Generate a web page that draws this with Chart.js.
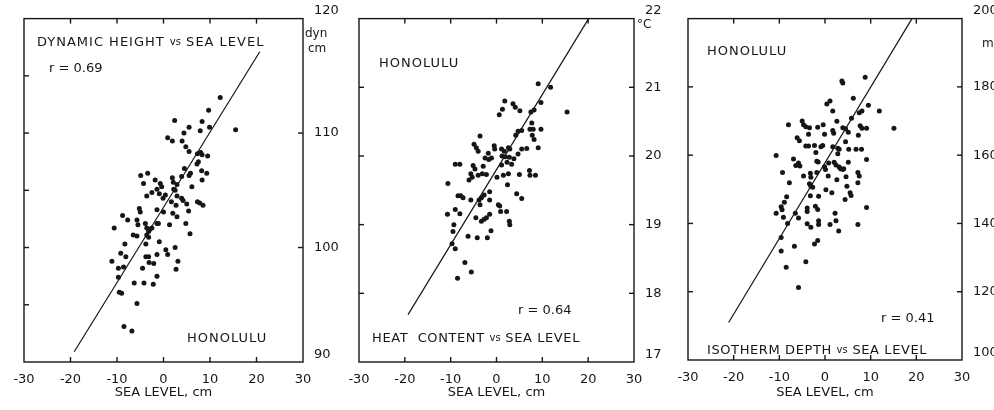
<!DOCTYPE html>
<html><head><meta charset="utf-8">
<script src="https://cdn.jsdelivr.net/npm/chart.js@4.4.1/dist/chart.umd.min.js"></script>
<style>
html,body{margin:0;padding:0;background:#fff;}
#wrap{position:relative;width:994px;height:410px;overflow:hidden;background:#fff}
canvas{position:absolute;top:0}
</style></head><body>
<div id="wrap">
<canvas id="c1" width="345" height="410" style="left:0px"></canvas>
<canvas id="c2" width="345" height="410" style="left:330px"></canvas>
<canvas id="c3" width="334" height="410" style="left:660px"></canvas>
</div>
<script>
const INK = '#161616';
const FONT = "'DejaVu Sans', sans-serif";

// shared x axis (sea level, cm)
const xTickValues = [-30, -20, -10, 0, 10, 20, 30];
const xTickLabels = ['-30', '-20', '-10', '0', '10', '20', '30'];
const xInnerTicks = [-20, -10, 0, 10, 20];
const xTitle = 'SEA LEVEL, cm';

// ---------- Panel 1: dynamic height vs sea level ----------
const seaLevel1 = [12.2,9.7,2.4,8.3,5.5,9.9,7.9,15.5,4.4,0.9,1.9,4.0,4.8,5.5,7.3,8.0,9.5,8.3,7.5,7.2,4.5,5.8,5.5,9.3,8.2,8.3,6.1,-4.9,-3.4,-4.3,1.9,2.1,2.9,3.9,-1.8,-0.7,-0.4,-1.4,-2.5,-3.6,-0.9,-0.1,0.4,2.2,2.5,1.7,2.9,3.9,4.2,5.0,5.4,7.3,7.8,8.5,2.7,2.0,2.9,-1.4,0.0,-5.2,-5.0,-8.8,-7.7,-5.7,-5.5,-3.9,-3.6,-3.2,-2.9,-2.5,-1.4,-1.1,1.3,4.8,5.7,-10.6,-6.5,-5.7,-3.6,-3.2,-8.3,-3.8,-0.9,0.5,0.9,2.5,-9.2,-8.1,-11.1,-9.7,-8.6,-4.5,-3.8,-3.2,-3.1,-2.1,-1.4,3.1,2.7,-1.4,-9.7,-6.3,-4.2,-2.2,-9.5,-9.0,-5.7,-8.5,-6.8];
const dynHeight1 = [113.1,112.0,111.1,111.0,110.5,110.5,110.2,110.3,110.0,109.6,109.3,109.3,108.8,108.4,108.2,108.3,108.0,108.1,107.5,107.3,106.9,106.5,106.3,106.5,106.7,105.9,105.3,106.3,106.5,105.6,106.1,105.7,105.5,106.2,105.9,105.6,105.3,105.1,104.8,104.5,104.7,104.3,104.6,105.1,105.0,104.0,104.5,104.3,104.1,103.8,103.2,104.0,103.9,103.7,103.7,103.0,102.7,103.3,103.1,103.4,103.1,102.8,102.4,102.4,102.0,102.1,101.7,101.4,101.6,101.7,102.1,102.1,102.0,102.1,101.2,101.7,101.1,101.0,101.1,100.9,100.3,100.3,100.5,99.8,99.4,100.0,99.5,99.2,98.8,98.2,98.3,98.2,99.2,99.2,98.7,98.6,99.4,98.8,98.1,97.5,97.4,96.9,96.9,96.8,96.1,96.0,95.1,93.1,92.7];
const fitX1 = [-19.2, 20.7];
const fitY1 = [90.9, 117.1];
const yTickValues1 = [90, 100, 110, 120];
const yTickLabels1 = ['90', '100', '110', '120'];
const yInnerLeft1 = [95, 100, 105, 110, 115];
const yInnerRight1 = [100, 110];

// ---------- Panel 2: heat content vs sea level ----------
const seaLevel2 = [9.1,11.8,15.4,1.8,0.6,1.3,3.6,4.1,5.1,7.5,8.2,9.7,7.7,7.3,8.0,5.5,4.7,4.2,9.7,7.8,8.2,-3.6,-4.9,-4.4,-4.0,-0.5,-0.4,-2.5,-1.8,-1.1,-1.7,1.1,1.7,2.6,2.9,1.2,1.9,2.8,4.7,5.5,6.6,9.1,3.8,2.3,3.3,1.1,-9.0,-8.0,-5.1,-4.7,-2.9,-5.6,-5.3,-6.0,-4.0,-3.1,-2.2,0.1,1.5,2.6,5.0,7.2,7.3,8.5,-10.6,-8.4,-7.8,-7.3,-5.6,-3.8,-3.3,-2.7,-3.6,-1.5,-1.5,0.4,0.7,2.4,4.4,5.5,-10.7,-9.0,-8.0,-9.3,-4.5,-3.3,-2.7,-2.2,-1.5,0.9,2.2,2.8,2.9,-9.5,-6.2,-4.2,-2.0,-1.2,-9.7,-9.0,-6.9,-5.5,-8.5];
const heatContent2 = [21.05,21.0,20.64,20.8,20.6,20.68,20.76,20.71,20.66,20.64,20.67,20.78,20.48,20.39,20.39,20.37,20.36,20.3,20.39,20.3,20.24,20.29,20.17,20.12,20.07,20.15,20.1,19.97,20.04,19.97,19.95,20.1,20.07,20.12,20.1,20.0,19.99,19.98,20.03,20.1,20.11,20.12,19.96,19.91,19.88,19.87,19.88,19.88,19.86,19.81,19.85,19.74,19.69,19.65,19.72,19.74,19.73,19.69,19.72,19.74,19.73,19.79,19.72,19.72,19.6,19.42,19.42,19.39,19.36,19.36,19.39,19.43,19.29,19.48,19.36,19.29,19.27,19.58,19.45,19.38,19.15,19.22,19.16,19.0,19.1,19.05,19.08,19.1,19.15,19.19,19.19,19.05,19.0,18.9,18.83,18.81,18.81,18.91,18.72,18.65,18.45,18.31,18.22];
const fitX2 = [-19.3, 20.1];
const fitY2 = [17.69, 22.0];
const yTickValues2 = [17, 18, 19, 20, 21, 22];
const yTickLabels2 = ['17', '18', '19', '20', '21', '22'];
const yInnerLeft2 = [18, 19, 20, 21];
const yInnerRight2 = [18, 19, 20, 21];

// ---------- Panel 3: isotherm depth vs sea level ----------
const seaLevel3 = [8.8,3.7,3.9,6.2,0.4,1.1,9.5,11.9,1.7,7.5,8.1,5.8,2.6,-8.0,-5.0,-4.7,-4.2,-3.4,-3.6,-1.6,-0.4,-0.1,1.7,1.9,3.9,4.5,7.7,8.1,9.1,15.1,5.1,7.3,4.5,-6.1,-5.6,-4.2,-3.6,-2.3,-0.9,-0.5,1.7,2.8,3.1,5.2,6.8,8.0,-10.7,-6.9,-5.8,-6.4,-5.5,-2.0,-1.8,-1.5,0.8,-0.1,0.1,2.0,2.4,3.1,2.8,3.4,3.9,4.1,5.1,9.1,-9.3,-7.8,-4.7,-3.2,-3.1,-3.4,-3.1,-2.7,-1.8,0.7,2.6,4.6,4.8,7.2,7.5,7.2,0.2,1.5,5.5,5.7,4.4,-8.4,-8.9,-9.6,-9.4,-10.7,-9.1,-8.2,-6.5,-5.8,-3.9,-3.9,-2.1,-1.6,-3.2,-1.4,-3.9,-3.1,-1.4,-1.4,1.1,2.2,2.4,3.0,7.2,9.1,-9.6,-9.6,-6.7,-2.3,-1.6,-4.2,-8.5,-5.8];
const isoDepth3 = [182.8,181.7,181.1,176.7,175.0,175.9,174.6,172.9,172.9,172.4,172.9,170.8,169.9,168.9,170.0,168.9,168.3,168.0,166.1,168.2,168.9,166.1,167.2,166.4,168.0,167.7,168.6,167.9,167.9,167.9,166.7,165.8,163.9,165.1,164.2,162.7,162.7,162.8,162.5,162.8,162.5,162.0,161.7,161.7,161.7,161.7,159.9,158.9,157.7,157.0,156.8,160.8,158.2,158.0,157.7,156.6,155.8,157.9,157.1,156.5,160.4,156.0,155.8,156.0,157.9,158.7,154.9,151.9,153.9,154.7,153.5,151.6,150.9,150.6,154.9,153.9,152.8,153.7,150.9,154.9,153.9,151.9,149.9,149.0,149.0,148.2,147.0,147.8,146.2,144.9,144.0,143.0,141.8,140.0,143.0,141.6,144.5,143.5,145.0,144.1,148.1,148.0,139.9,138.9,140.8,139.7,139.7,143.0,140.8,137.8,139.7,144.7,135.9,131.9,133.3,134.0,135.0,128.8,127.2,121.2];
const fitX3 = [-21.1, 19.05];
const fitY3 = [111.0, 200.0];
const yTickValues3 = [100, 120, 140, 160, 180, 200];
const yTickLabels3 = ['100', '120', '140', '160', '180', '200'];
const yInnerLeft3 = [120, 140, 160, 180];
const yInnerRight3 = [120, 140, 160, 180];

function drawParts(ctx, parts, x, y) {
  let cx = x;
  parts.forEach(([t, size, sp]) => {
    ctx.font = size + 'px ' + FONT;
    ctx.letterSpacing = (sp || 0) + 'px';
    ctx.fillText(t, cx, y);
    cx += ctx.measureText(t).width;
  });
  ctx.letterSpacing = '0px';
}

const framePlugin = {
  id: 'frame',
  afterDatasetsDraw(chart, args, o) {
    const {ctx, chartArea: a, scales: {x, y}} = chart;
    ctx.save();
    ctx.strokeStyle = INK;
    ctx.lineWidth = 1.4;
    ctx.strokeRect(a.left, a.top, a.right - a.left, a.bottom - a.top);
    const seg = (x1, y1, x2, y2) => { ctx.beginPath(); ctx.moveTo(x1, y1); ctx.lineTo(x2, y2); ctx.stroke(); };
    xInnerTicks.forEach(v => {
      const px = x.getPixelForValue(v);
      seg(px, a.bottom, px, a.bottom - 5);
      seg(px, a.top, px, a.top + 5);
    });
    o.yLeft.forEach(v => { const py = y.getPixelForValue(v); seg(a.left, py, a.left + 5, py); });
    o.yRight.forEach(v => { const py = y.getPixelForValue(v); seg(a.right, py, a.right - 5, py); });
    ctx.fillStyle = INK;
    ctx.textBaseline = 'middle';
    ctx.textAlign = 'left';
    o.texts.forEach(t => drawParts(ctx, t.parts, a.left + t.dx, a.top + t.dy));
    o.units.forEach(t => drawParts(ctx, t.parts, a.right + t.dx, a.top + t.dy));
    ctx.restore();
  }
};

function makePanel(id, p) {
  const pts = p.xs.map((v, i) => ({x: v, y: p.ys[i]}));
  const fit = p.fitX.map((v, i) => ({x: v, y: p.fitY[i]}));
  const last = p.yTicks.length - 1;
  return new Chart(document.getElementById(id), {
    type: 'scatter',
    data: {datasets: [
      {data: pts, pointRadius: 2.5, pointHoverRadius: 2.5, backgroundColor: INK, borderWidth: 0, pointBorderWidth: 0},
      {type: 'line', data: fit, showLine: true, borderColor: INK, borderWidth: 1.2, pointRadius: 0, fill: false, tension: 0}
    ]},
    options: {
      responsive: false, animation: false, devicePixelRatio: 1,
      layout: {padding: {left: p.padLeft, top: 13, right: 0, bottom: 0}},
      plugins: {
        legend: {display: false}, tooltip: {enabled: false},
        frame: {yLeft: p.yLeft, yRight: p.yRight, texts: p.texts, units: p.units}
      },
      scales: {
        x: {
          type: 'linear', position: 'bottom', min: -30, max: 30,
          afterBuildTicks: s => { s.ticks = xTickValues.map(v => ({value: v})); },
          afterFit: s => { s.height = p.xHeight; },
          grid: {display: false}, border: {display: false},
          ticks: {color: INK, font: {family: FONT, size: 13}, padding: 2, maxRotation: 0, autoSkip: false,
            callback: v => xTickLabels[xTickValues.indexOf(v)]},
          title: {display: true, text: xTitle, color: INK, font: {family: FONT, size: 13}, padding: {top: 0, bottom: 10}}
        },
        y: {
          type: 'linear', position: 'right', min: p.yTicks[0], max: p.yTicks[last],
          afterBuildTicks: s => { s.ticks = p.yTicks.map(v => ({value: v})); },
          afterFit: s => { s.width = p.yWidth; },
          grid: {display: false}, border: {display: false},
          ticks: {color: INK, font: {family: FONT, size: 13}, padding: 3, autoSkip: false,
            callback: v => {
              const i = p.yTicks.indexOf(v);
              const lab = p.yLabels[i];
              return (i === 0 || i === last) ? [lab, ''] : lab;
            }}
        }
      }
    },
    plugins: [framePlugin]
  });
}

makePanel('c1', {
  xs: seaLevel1, ys: dynHeight1, fitX: fitX1, fitY: fitY1,
  yTicks: yTickValues1, yLabels: yTickLabels1, yLeft: yInnerLeft1, yRight: yInnerRight1,
  padLeft: 24, yWidth: 42, xHeight: 48,
  texts: [
    {parts: [['DYNAMIC HEIGHT ', 13, 1], ['vs', 10, 0], [' SEA LEVEL', 13, 1]], dx: 13, dy: 24},
    {parts: [['r = 0.69', 13, 0]], dx: 25, dy: 50},
    {parts: [['HONOLULU', 13, 1]], dx: 163, dy: 320}
  ],
  units: [{parts: [['dyn', 12, 0]], dx: 2, dy: 15}, {parts: [['cm', 12, 0]], dx: 5, dy: 30}]
});

makePanel('c2', {
  xs: seaLevel2, ys: heatContent2, fitX: fitX2, fitY: fitY2,
  yTicks: yTickValues2, yLabels: yTickLabels2, yLeft: yInnerLeft2, yRight: yInnerRight2,
  padLeft: 29, yWidth: 41, xHeight: 48,
  texts: [
    {parts: [['HONOLULU', 13, 1]], dx: 20, dy: 45},
    {parts: [['r = 0.64', 13, 0]], dx: 159, dy: 292},
    {parts: [['HEAT  CONTENT ', 13, 0.6], ['vs', 10, 0], [' SEA LEVEL', 13, 0.6]], dx: 13, dy: 320}
  ],
  units: [{parts: [['°C', 12, 0]], dx: 3, dy: 6}]
});

makePanel('c3', {
  xs: seaLevel3, ys: isoDepth3, fitX: fitX3, fitY: fitY3,
  yTicks: yTickValues3, yLabels: yTickLabels3, yLeft: yInnerLeft3, yRight: yInnerRight3,
  padLeft: 28, yWidth: 32, xHeight: 50,
  texts: [
    {parts: [['HONOLULU', 13, 1]], dx: 19, dy: 33},
    {parts: [['r = 0.41', 13, 0]], dx: 193, dy: 300},
    {parts: [['ISOTHERM DEPTH ', 13, 0.6], ['vs', 10, 0], [' SEA LEVEL', 13, 0.6]], dx: 19, dy: 332}
  ],
  units: [{parts: [['m', 12, 0]], dx: 20, dy: 25}]
});
</script>
</body></html>
